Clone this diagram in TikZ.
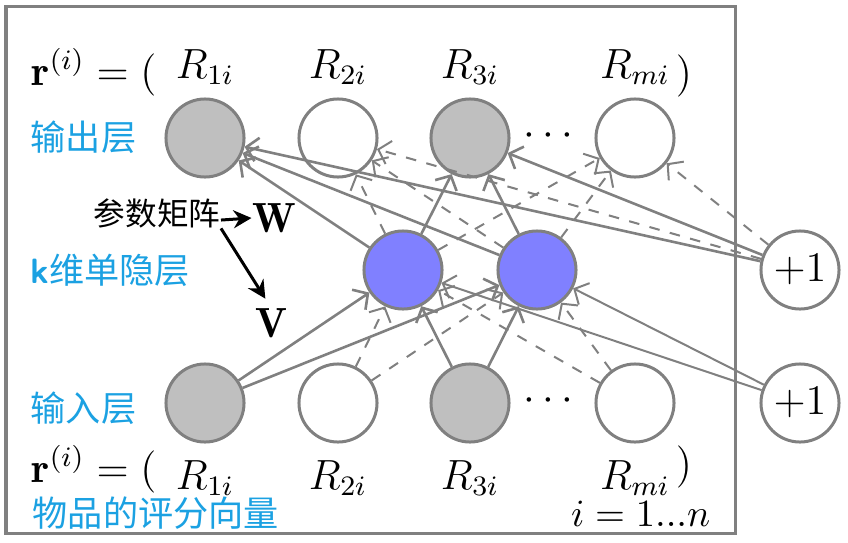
\documentclass[tikz,border=0pt]{standalone}
\usepackage{amsmath, amssymb}
\usepackage{fontspec}
\newfontfamily\cjk{Noto Sans CJK SC}
\usepackage{tikz}
\usetikzlibrary{arrows.meta, positioning}
\usepackage{xcolor}
\definecolor{lab}{HTML}{1BA1E2}
\definecolor{edge}{HTML}{808080}
\definecolor{obs}{HTML}{BFBFBF}
\definecolor{hid}{HTML}{8080FF}

\begin{document}
\begin{tikzpicture}[x=0.01cm, y=-0.01cm, font=\fontsize{12}{14}\selectfont,
      u/.style={circle, draw=edge, line width=0.03cm, fill=white, minimum size=0.78cm, inner sep=0pt},
      known/.style={u, fill=obs},
      hidden/.style={u, fill=hid},
      conn/.style={draw=edge, line width=0.026cm, -{Straight Barb[length=1.1mm, width=2.4mm]}},
      connd/.style={conn, line width=0.02cm, dashed},
      connb/.style={conn, line width=0.02cm},
      cn/.style={font=\cjk\fontsize{10}{12}\selectfont, text=lab, inner sep=0pt},
      hint/.style={black, line width=0.03cm, -{Stealth[length=1.8mm, width=1.8mm]}}]
      \useasboundingbox (0,0) rectangle (848,542);
      \draw[edge, line width=0.03cm] (6,6) rectangle (735,533);
      \foreach \n/\x/\s in {1/205/known, 2/338/u, 3/470/known, m/635/u} {
        \node[\s] (o\n) at (\x,138) {};
        \node[\s] (i\n) at (\x,403) {};
        \node[anchor=base] (ro\n) at (\x,78) {$R_{\n i}$};
        \node[anchor=base] (ri\n) at (\x,489) {$R_{\n i}$};
      }
      \node[hidden] (h1) at (403,270) {};
      \node[hidden] (h2) at (537,270) {};
      \node[u] (b1) at (800,270) {$+1$};
      \node[u] (b2) at (800,403) {$+1$};
      \node (dt) at (552,136) {$\cdots$};
      \node (db) at (552,401) {$\cdots$};
      \node[anchor=base west, inner sep=0pt] (rt) at (31,85) {$\mathbf{r}^{(i)} = ($};
      \node[anchor=base west, inner sep=0pt] (rb) at (31,482) {$\mathbf{r}^{(i)} = ($};
      \node[anchor=base, inner sep=0pt] (pt) at (684,86) {$)$};
      \node[anchor=base, inner sep=0pt] (pb) at (684,477) {$)$};
      \node[anchor=base east, inner sep=0pt, font=\fontsize{11}{13}\selectfont] (ii) at (711,526) {$i = 1...n$};
      \node[cn, anchor=west] (lo) at (30,137) {输出层};
      \node[cn, anchor=west] (lh) at (30,270) {{\sffamily\bfseries k}维单隐层};
      \node[cn, anchor=west] (li) at (30,408) {输入层};
      \node[cn, anchor=west] (lv) at (32,513) {物品的评分向量};
      \node[font=\cjk\fontsize{9}{11}\selectfont, inner sep=0pt] (pm) at (157,213) {参数矩阵};
      \node[inner sep=0pt] (W) at (274,218) {$\mathbf{W}$};
      \node[inner sep=0pt] (V) at (271,323) {$\mathbf{V}$};
      \draw[hint] ([yshift=-2pt]pm.east) -- (W.west);
      \draw[hint, shorten >=3pt] (pm.south east) -- (V.north);
      \foreach \a in {1,3} {
        \foreach \b in {1,2} {
          \draw[conn] (i\a) -- (h\b);
          \draw[conn] (h\b) -- (o\a);
        }
        \draw[conn] (b1) -- (o\a);
      }
      \foreach \a in {2,m} {
        \foreach \b in {1,2} {
          \draw[connd] (i\a) -- (h\b);
          \draw[connd] (h\b) -- (o\a);
        }
        \draw[connd] (b1) -- (o\a);
      }
      \foreach \b in {1,2} \draw[connb] (b2) -- (h\b);
    \end{tikzpicture}
\end{document}
